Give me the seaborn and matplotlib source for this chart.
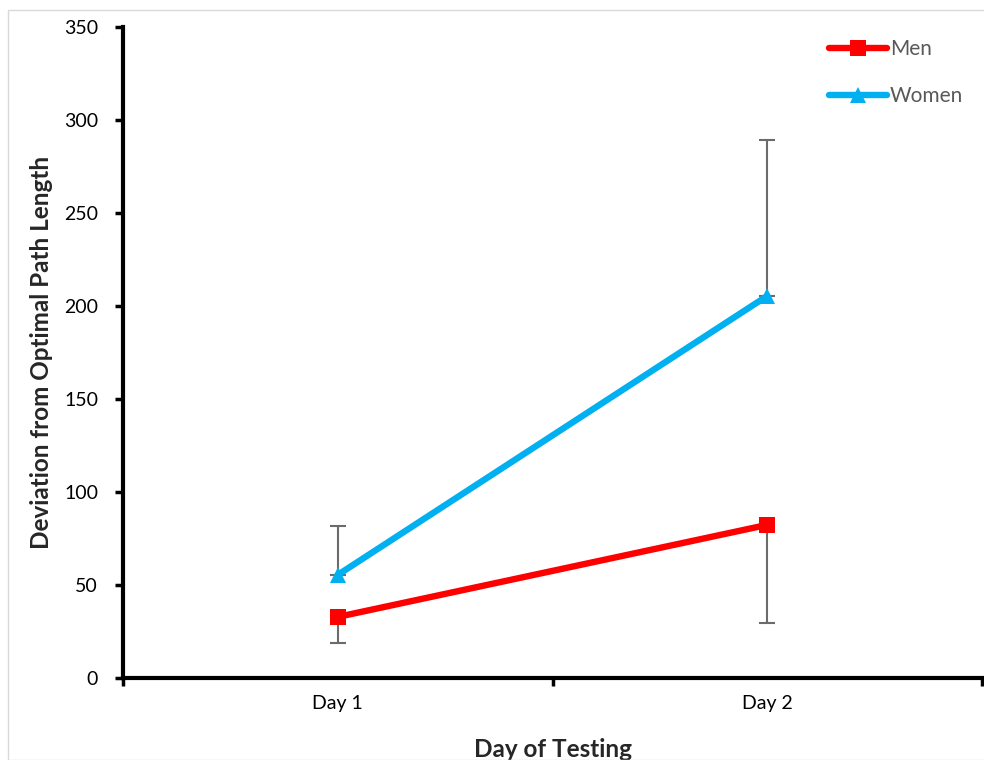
import matplotlib
matplotlib.use("Agg")
import matplotlib.pyplot as plt
import seaborn as sns
import pandas as pd
from matplotlib.patches import Rectangle
from matplotlib.lines import Line2D

days = ["Day 1", "Day 2"]
men = [32.8, 82.3]
women = [55.4, 205.4]
men_err_low = [14.0, 52.7]      # error drawn below Men means
women_err_up = [26.3, 83.8]     # error drawn above Women means
yticks = [0, 50, 100, 150, 200, 250, 300, 350]

sns.set_theme(style="white")
plt.rcParams["font.family"] = ["Lato", "DejaVu Sans"]

xpos = [0.5, 1.5]
df = pd.DataFrame({
    "x": xpos * 2,
    "value": men + women,
    "group": ["Men"] * 2 + ["Women"] * 2,
})

fig = plt.figure(figsize=(9.84, 7.6), dpi=100)
ax = fig.add_axes([0.125, 0.108, 0.873, 0.8565])

palette = {"Men": "#FF0000", "Women": "#00B0F0"}
sns.lineplot(data=df, x="x", y="value", hue="group", style="group",
             markers={"Men": "s", "Women": "^"}, dashes=False,
             palette=palette, linewidth=4.6, markersize=11,
             markeredgewidth=0, ax=ax, legend=False, zorder=3)

ax.errorbar(xpos, men, yerr=[men_err_low, [0, 0]], fmt="none",
            ecolor="#6b6b6b", elinewidth=1.5, capsize=6, capthick=1.5, zorder=2)
ax.errorbar(xpos, women, yerr=[[0, 0], women_err_up], fmt="none",
            ecolor="#6b6b6b", elinewidth=1.5, capsize=6, capthick=1.5, zorder=2)

ax.set_xlim(0, 2)
ax.set_ylim(0, 350)
ax.set_yticks(yticks)
ax.set_yticklabels([str(v) for v in yticks], fontsize=14, color="black")
ax.set_xticks([0, 1, 2])
ax.set_xticklabels([])
ax.set_xticks(xpos, minor=True)
ax.set_xticklabels(days, minor=True, fontsize=14, color="black")
ax.tick_params(axis="x", which="minor", bottom=False, length=0, pad=12)
ax.tick_params(axis="x", which="major", bottom=True, direction="out",
               length=6, width=2.5, color="black")
ax.tick_params(axis="y", left=True, direction="out", length=6, width=2.5,
               color="black", pad=12)

for side in ["top", "right"]:
    ax.spines[side].set_visible(False)
for side in ["left", "bottom"]:
    ax.spines[side].set_linewidth(3)
    ax.spines[side].set_color("black")

ax.set_xlabel("Day of Testing", fontsize=17.5, fontweight="bold", labelpad=19)
ax.set_ylabel("Deviation from Optimal Path Length", fontsize=17.5,
              fontweight="bold", labelpad=8)

handles = [
    Line2D([], [], color="#FF0000", lw=4.6, marker="s", markersize=11, markeredgewidth=0),
    Line2D([], [], color="#00B0F0", lw=4.6, marker="^", markersize=11, markeredgewidth=0),
]
leg = ax.legend(handles, ["Men", "Women"], loc="upper right", frameon=False,
                fontsize=15, handlelength=2.8, handletextpad=0.15,
                labelspacing=1.3, bbox_to_anchor=(1.0, 1.01))
for t in leg.get_texts():
    t.set_color("#595959")

fig.patches.append(Rectangle((8 / 984, 0), 1, 1 - 10 / 760, transform=fig.transFigure,
                             fill=False, edgecolor="#d9d9d9", linewidth=1, zorder=0))

fig.savefig("out.png", dpi=100)
